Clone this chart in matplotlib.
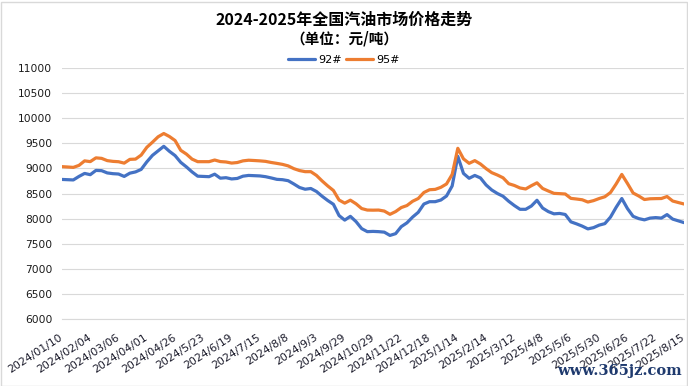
import matplotlib
matplotlib.use('Agg')
import matplotlib.pyplot as plt
from matplotlib.patches import Rectangle

plt.rcParams['font.family'] = ['Noto Sans CJK SC', 'DejaVu Sans']

title = '2024-2025年全国汽油市场价格走势'
subtitle = '（单位：元/吨）'
series_names = ['92#', '95#']

tick_labels = ['2024/01/10', '2024/02/04', '2024/03/06', '2024/04/01', '2024/04/26',
               '2024/5/23', '2024/6/19', '2024/7/15', '2024/8/8', '2024/9/3',
               '2024/9/29', '2024/10/29', '2024/11/22', '2024/12/18', '2025/1/14',
               '2025/2/14', '2025/3/12', '2025/4/8', '2025/5/6', '2025/5/30',
               '2025/6/26', '2025/7/22', '2025/8/15']

p92 = [8780, 8775, 8770, 8840, 8900, 8875, 8960, 8955, 8910, 8895,
       8888, 8840, 8905, 8930, 8980, 9130, 9260, 9350, 9440, 9340,
       9255, 9120, 9030, 8930, 8845, 8840, 8835, 8885, 8805, 8815,
       8790, 8800, 8845, 8860, 8855, 8850, 8835, 8810, 8782, 8775,
       8755, 8690, 8620, 8585, 8600, 8540, 8445, 8360, 8285, 8060,
       7970, 8045, 7940, 7800, 7740, 7745, 7740, 7730, 7665, 7700,
       7840, 7915, 8030, 8125, 8290, 8337, 8337, 8370, 8450, 8650,
       9240, 8900, 8803, 8860, 8810, 8670, 8570, 8500, 8445, 8345,
       8260, 8185, 8185, 8250, 8365, 8210, 8140, 8095, 8103, 8082,
       7935, 7895, 7850, 7795, 7820, 7870, 7900, 8030, 8225, 8400,
       8200, 8045, 8000, 7975, 8010, 8020, 8010, 8080, 7990, 7955,
       7920]

p95 = [9035, 9028, 9020, 9060, 9150, 9135, 9210, 9200, 9155, 9140,
       9133, 9105, 9180, 9185, 9265, 9420, 9522, 9630, 9695, 9635,
       9555, 9360, 9285, 9185, 9134, 9134, 9134, 9167, 9136, 9128,
       9106, 9117, 9150, 9163, 9157, 9150, 9140, 9118, 9100, 9080,
       9050, 8995, 8957, 8935, 8935, 8860, 8750, 8650, 8560, 8370,
       8308, 8367, 8295, 8200, 8170, 8168, 8170, 8150, 8085, 8140,
       8220, 8260, 8345, 8400, 8520, 8575, 8582, 8623, 8690, 8880,
       9400, 9190, 9101, 9155, 9088, 8995, 8915, 8868, 8813, 8695,
       8660, 8610, 8590, 8655, 8713, 8600, 8550, 8503, 8497, 8490,
       8403, 8390, 8375, 8330, 8358, 8400, 8435, 8520, 8690, 8880,
       8700, 8510, 8450, 8380, 8395, 8398, 8400, 8440, 8350, 8320,
       8291]

W, H = 688, 386
fig = plt.figure(figsize=(W / 100, H / 100), dpi=100)
fig.patches.append(Rectangle((0.5 / W, 0.5 / H), 1 - 2 / W, 1 - 2 / H,
                             transform=fig.transFigure, fill=False,
                             edgecolor='#d9d9d9', linewidth=1))

ax = fig.add_axes([62 / W, 67 / H, 622 / W, 251 / H])
x = list(range(len(p92)))
l1, = ax.plot(x, p92, color='#4472C4', lw=2.3, solid_joinstyle='round', solid_capstyle='round')
l2, = ax.plot(x, p95, color='#ED7D31', lw=2.3, solid_joinstyle='round', solid_capstyle='round')

ax.set_xlim(0, len(p92) - 1)
ax.set_ylim(6000, 11000)
ax.set_yticks(list(range(6000, 11001, 500)))
ax.yaxis.grid(True, color='#d9d9d9', lw=0.8)
ax.set_axisbelow(True)
for s in ['top', 'right', 'left']:
    ax.spines[s].set_visible(False)
ax.spines['bottom'].set_color('#d9d9d9')
ax.spines['bottom'].set_linewidth(0.8)

step = (len(p92) - 1) // (len(tick_labels) - 1)
ax.set_xticks(list(range(0, len(p92), step)))
ax.set_xticklabels(tick_labels, rotation=33, ha='right', va='center',
                   rotation_mode='anchor', fontsize=7.8, family='DejaVu Sans',
                   color='#1a1a2a')
ax.tick_params(axis='x', length=0, pad=12.5)
ax.tick_params(axis='y', length=0, pad=7, labelsize=7.7, labelcolor='#1a1a1a')
for lab in ax.get_yticklabels():
    lab.set_family('DejaVu Sans')

fig.text(0.5, 1 - 20 / H, title, ha='center', va='center', fontsize=11.5,
         fontweight='bold', color='#000000')
fig.text(0.5, 1 - 39 / H, subtitle, ha='center', va='center', fontsize=10.5,
         fontweight='bold', color='#000000')

fig.legend([l1, l2], series_names, loc='center', bbox_to_anchor=(0.5, 1 - 60 / H),
           ncol=2, frameon=False, handlelength=2.4, handletextpad=0.3,
           columnspacing=0.4, prop={'family': 'DejaVu Sans', 'size': 8})

fig.text(682 / W, 8 / H, 'www.365jz.com', ha='right', va='bottom', fontsize=10.5,
         fontweight='bold', color='#1f3a6e', family='DejaVu Serif')

fig.savefig('out.png', dpi=100)
